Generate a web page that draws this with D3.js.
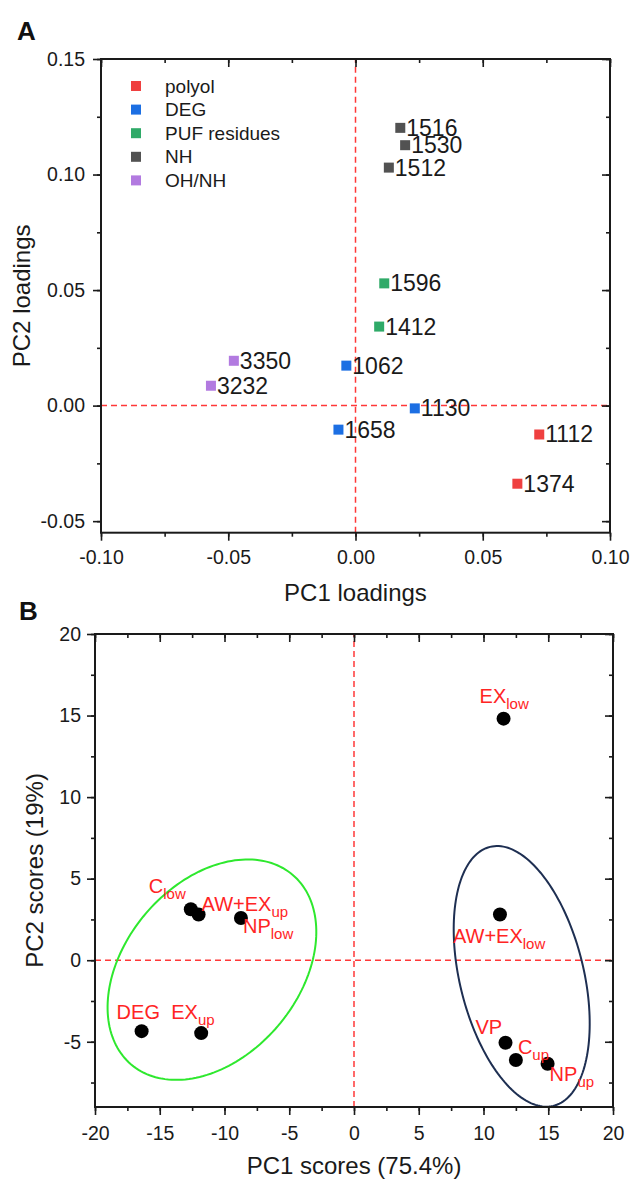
<!DOCTYPE html>
<html lang="en">
<head>
    <meta charset="UTF-8">
    <title>PCA loadings and scores</title>
    <script src="https://d3js.org/d3.v7.min.js" charset="utf-8"></script>
    <style>
        body { margin: 0; background: #fff; }
        svg { display: block; }
    </style>
</head>
<body>

    <script>

        // ---- panel A data: PC loadings ----
        var loadNames = ["1516", "1530", "1512", "1596", "1412", "3350", "3232", "1062", "1130", "1658", "1112", "1374"];
        var loadPC1 = [0.0176, 0.0195, 0.0131, 0.0113, 0.0093, -0.0478, -0.0568, -0.0036, 0.0233, -0.0067, 0.0722, 0.0636];
        var loadPC2 = [0.1202, 0.1127, 0.1030, 0.0529, 0.0342, 0.0194, 0.0086, 0.0173, -0.0012, -0.0104, -0.0125, -0.0338];
        var loadGroup = ["NH", "NH", "NH", "PUF residues", "PUF residues", "OH/NH", "OH/NH", "DEG", "DEG", "DEG", "polyol", "polyol"];
        var groups = ["polyol", "DEG", "PUF residues", "NH", "OH/NH"];
        var xTicksA = [-0.10, -0.05, 0.00, 0.05, 0.10];
        var yTicksA = [-0.05, 0.00, 0.05, 0.10, 0.15];

        // ---- panel B data: PC scores ----
        var sampleMain = ["EX", "C", "AW+EX", "NP", "DEG", "EX", "AW+EX", "VP", "C", "NP"];
        var sampleSub = ["low", "low", "up", "low", "", "up", "low", "", "up", "up"];
        var scorePC1 = [11.55, -12.6, -12.0, -8.73, -16.4, -11.8, 11.27, 11.7, 12.5, 14.95];
        var scorePC2 = [14.81, 3.12, 2.8, 2.59, -4.35, -4.47, 2.8, -5.06, -6.12, -6.35];
        var xTicksB = [-20, -15, -10, -5, 0, 5, 10, 15, 20];
        var yTicksB = [-5, 0, 5, 10, 15, 20];

        // confidence ellipses (centre + two semi-axis vectors, data units)
        var ellCx = [-10.97, 12.95];
        var ellCy = [-0.58, -0.99];
        var ellU = [[6.24, 5.81], [2.44, -7.94]];
        var ellV = [[5.10, -3.45], [-4.65, -0.90]];

        // styles
        var groupColors = ["#ef4040", "#1c6fe3", "#2faa68", "#525252", "#b27ae0"];
        var ellColors = ["#2ee82e", "#1e2f52"];
        var labelDx = [-24, -42, 3, 2, -25, -30, -47, -30, 2, 2];
        var labelDy = [-16, -16, -4, 15, -12, -14, 28, -9, -6, 17];

        var font = "'Liberation Sans', Arial, sans-serif";
        var ink = "#1a1a1a";
        var dashRed = "#ff3838";

        var svg = d3.select("body")
            .append("svg")
            .attr("width", 630)
            .attr("height", 1180)
            .style("font-family", font);

        // draws the box, the ticks on all four sides and the tick labels
        function drawFrame(g, x, y, xMajor, xMinor, yMajor, yMinor, fmt, padX, padY) {
            var x0 = x.range()[0], x1 = x.range()[1];
            var y0 = y.range()[0], y1 = y.range()[1];

            function style(sel) {
                sel.select(".domain").remove();
                sel.selectAll("line").attr("stroke", ink).attr("stroke-width", 1.6);
                sel.selectAll("text").attr("fill", ink).style("font-family", font).attr("font-size", 19.5);
            }

            // bottom
            g.append("g").attr("transform", "translate(0," + y0 + ")")
                .call(d3.axisBottom(x).tickValues(xMinor).tickSize(4).tickFormat(""))
                .call(style);
            g.append("g").attr("transform", "translate(0," + y0 + ")")
                .call(d3.axisBottom(x).tickValues(xMajor).tickSize(8).tickPadding(padX).tickFormat(fmt))
                .call(style);
            // left
            g.append("g").attr("transform", "translate(" + x0 + ",0)")
                .call(d3.axisLeft(y).tickValues(yMinor).tickSize(4).tickFormat(""))
                .call(style);
            g.append("g").attr("transform", "translate(" + x0 + ",0)")
                .call(d3.axisLeft(y).tickValues(yMajor).tickSize(8).tickPadding(padY).tickFormat(fmt))
                .call(style);
            // top and right, ticks pointing in
            g.append("g").attr("transform", "translate(0," + y1 + ")")
                .call(d3.axisTop(x).tickValues(xMinor).tickSize(-4).tickFormat(""))
                .call(style);
            g.append("g").attr("transform", "translate(0," + y1 + ")")
                .call(d3.axisTop(x).tickValues(xMajor).tickSize(-8).tickFormat(""))
                .call(style);
            g.append("g").attr("transform", "translate(" + x1 + ",0)")
                .call(d3.axisRight(y).tickValues(yMinor).tickSize(-4).tickFormat(""))
                .call(style);
            g.append("g").attr("transform", "translate(" + x1 + ",0)")
                .call(d3.axisRight(y).tickValues(yMajor).tickSize(-8).tickFormat(""))
                .call(style);

            g.append("rect")
                .attr("x", x0).attr("y", y1)
                .attr("width", x1 - x0).attr("height", y0 - y1)
                .attr("fill", "none")
                .attr("stroke", ink)
                .attr("stroke-width", 2);
        }

        function drawZeroLines(g, x, y) {
            g.append("line")
                .attr("x1", x(0)).attr("x2", x(0))
                .attr("y1", y.range()[0]).attr("y2", y.range()[1])
                .attr("stroke", dashRed).attr("stroke-width", 1.5)
                .attr("stroke-dasharray", "6,4");
            g.append("line")
                .attr("x1", x.range()[0]).attr("x2", x.range()[1])
                .attr("y1", y(0)).attr("y2", y(0))
                .attr("stroke", dashRed).attr("stroke-width", 1.5)
                .attr("stroke-dasharray", "6,4");
        }

        function minorTicks(lo, hi, step) {
            return d3.range(Math.round(lo / step), Math.round(hi / step) + 1).map(function (k) { return k * step; });
        }

        // ================= panel A =================
        var gA = svg.append("g");
        var xA = d3.scaleLinear().domain([-0.10, 0.10]).range([101, 610]);
        var yA = d3.scaleLinear().domain([-0.055, 0.15]).range([532.7, 59]);

        drawZeroLines(gA, xA, yA);
        drawFrame(gA, xA, yA, xTicksA, minorTicks(-0.1, 0.1, 0.025), yTicksA, minorTicks(-0.05, 0.15, 0.025),
            function (d) { return d.toFixed(2); }, 9, 8);

        var colorA = d3.scaleOrdinal().domain(groups).range(groupColors);

        gA.selectAll("rect.pt")
            .data(loadNames)
            .enter()
            .append("rect")
            .attr("class", "pt")
            .attr("x", function (d, i) { return xA(loadPC1[i]) - 5; })
            .attr("y", function (d, i) { return yA(loadPC2[i]) - 5; })
            .attr("width", 10)
            .attr("height", 10)
            .attr("fill", function (d, i) { return colorA(loadGroup[i]); });

        gA.selectAll("text.pl")
            .data(loadNames)
            .enter()
            .append("text")
            .attr("class", "pl")
            .attr("x", function (d, i) { return xA(loadPC1[i]) + 6; })
            .attr("y", function (d, i) { return yA(loadPC2[i]) + 8; })
            .attr("font-size", 23)
            .attr("fill", ink)
            .text(function (d) { return d; });

        // legend
        var legend = gA.selectAll("g.leg")
            .data(groups)
            .enter()
            .append("g")
            .attr("class", "leg")
            .attr("transform", function (d, i) { return "translate(136," + (86 + i * 23.6) + ")"; });
        legend.append("rect")
            .attr("x", -5).attr("y", -5)
            .attr("width", 10).attr("height", 10)
            .attr("fill", function (d) { return colorA(d); });
        legend.append("text")
            .attr("x", 29).attr("y", 6.5)
            .attr("font-size", 19)
            .attr("fill", ink)
            .text(function (d) { return d; });

        gA.append("text")
            .attr("x", (xA.range()[0] + xA.range()[1]) / 2)
            .attr("y", 601)
            .attr("text-anchor", "middle")
            .attr("font-size", 24)
            .attr("fill", ink)
            .text("PC1 loadings");
        gA.append("text")
            .attr("transform", "translate(30," + (yA.range()[0] + yA.range()[1]) / 2 + ") rotate(-90)")
            .attr("text-anchor", "middle")
            .attr("font-size", 24)
            .attr("fill", ink)
            .text("PC2 loadings");
        gA.append("text")
            .attr("x", 17).attr("y", 40)
            .attr("font-size", 26)
            .attr("font-weight", "bold")
            .attr("fill", "#111")
            .text("A");

        // ================= panel B =================
        var gB = svg.append("g");
        var xB = d3.scaleLinear().domain([-20, 20]).range([95, 613]);
        var yB = d3.scaleLinear().domain([-9, 20]).range([1107, 634]);

        drawZeroLines(gB, xB, yB);

        // ellipses drawn through the scales
        var ellLine = d3.line().curve(d3.curveLinearClosed);
        var ts = d3.range(0, 2 * Math.PI, Math.PI / 90);
        gB.selectAll("path.ell")
            .data(ellCx)
            .enter()
            .append("path")
            .attr("class", "ell")
            .attr("d", function (d, k) {
                return ellLine(ts.map(function (t) {
                    var px = ellCx[k] + ellU[k][0] * Math.cos(t) + ellV[k][0] * Math.sin(t);
                    var py = ellCy[k] + ellU[k][1] * Math.cos(t) + ellV[k][1] * Math.sin(t);
                    return [xB(px), yB(py)];
                }));
            })
            .attr("fill", "none")
            .attr("stroke", function (d, k) { return ellColors[k]; })
            .attr("stroke-width", 2);

        drawFrame(gB, xB, yB, xTicksB, minorTicks(-20, 20, 2.5), yTicksB, minorTicks(-7.5, 20, 2.5),
            function (d) { return String(d); }, 11, 6);

        gB.selectAll("circle.sc")
            .data(sampleMain)
            .enter()
            .append("circle")
            .attr("class", "sc")
            .attr("cx", function (d, i) { return xB(scorePC1[i]); })
            .attr("cy", function (d, i) { return yB(scorePC2[i]); })
            .attr("r", 7)
            .attr("fill", "#000");

        var lab = gB.selectAll("text.sl")
            .data(sampleMain)
            .enter()
            .append("text")
            .attr("class", "sl")
            .attr("x", function (d, i) { return xB(scorePC1[i]) + labelDx[i]; })
            .attr("y", function (d, i) { return yB(scorePC2[i]) + labelDy[i]; })
            .attr("font-size", 20)
            .attr("fill", "#ff2424");
        lab.append("tspan").text(function (d) { return d; });
        lab.append("tspan")
            .attr("dy", 6)
            .attr("font-size", 15)
            .text(function (d, i) { return sampleSub[i]; });

        gB.append("text")
            .attr("x", (xB.range()[0] + xB.range()[1]) / 2)
            .attr("y", 1174)
            .attr("text-anchor", "middle")
            .attr("font-size", 24)
            .attr("fill", ink)
            .text("PC1 scores (75.4%)");
        gB.append("text")
            .attr("transform", "translate(43," + (yB.range()[0] + yB.range()[1]) / 2 + ") rotate(-90)")
            .attr("text-anchor", "middle")
            .attr("font-size", 24)
            .attr("fill", ink)
            .text("PC2 scores (19%)");
        gB.append("text")
            .attr("x", 19).attr("y", 620)
            .attr("font-size", 26)
            .attr("font-weight", "bold")
            .attr("fill", "#111")
            .text("B");

    </script>
</body>
</html>
